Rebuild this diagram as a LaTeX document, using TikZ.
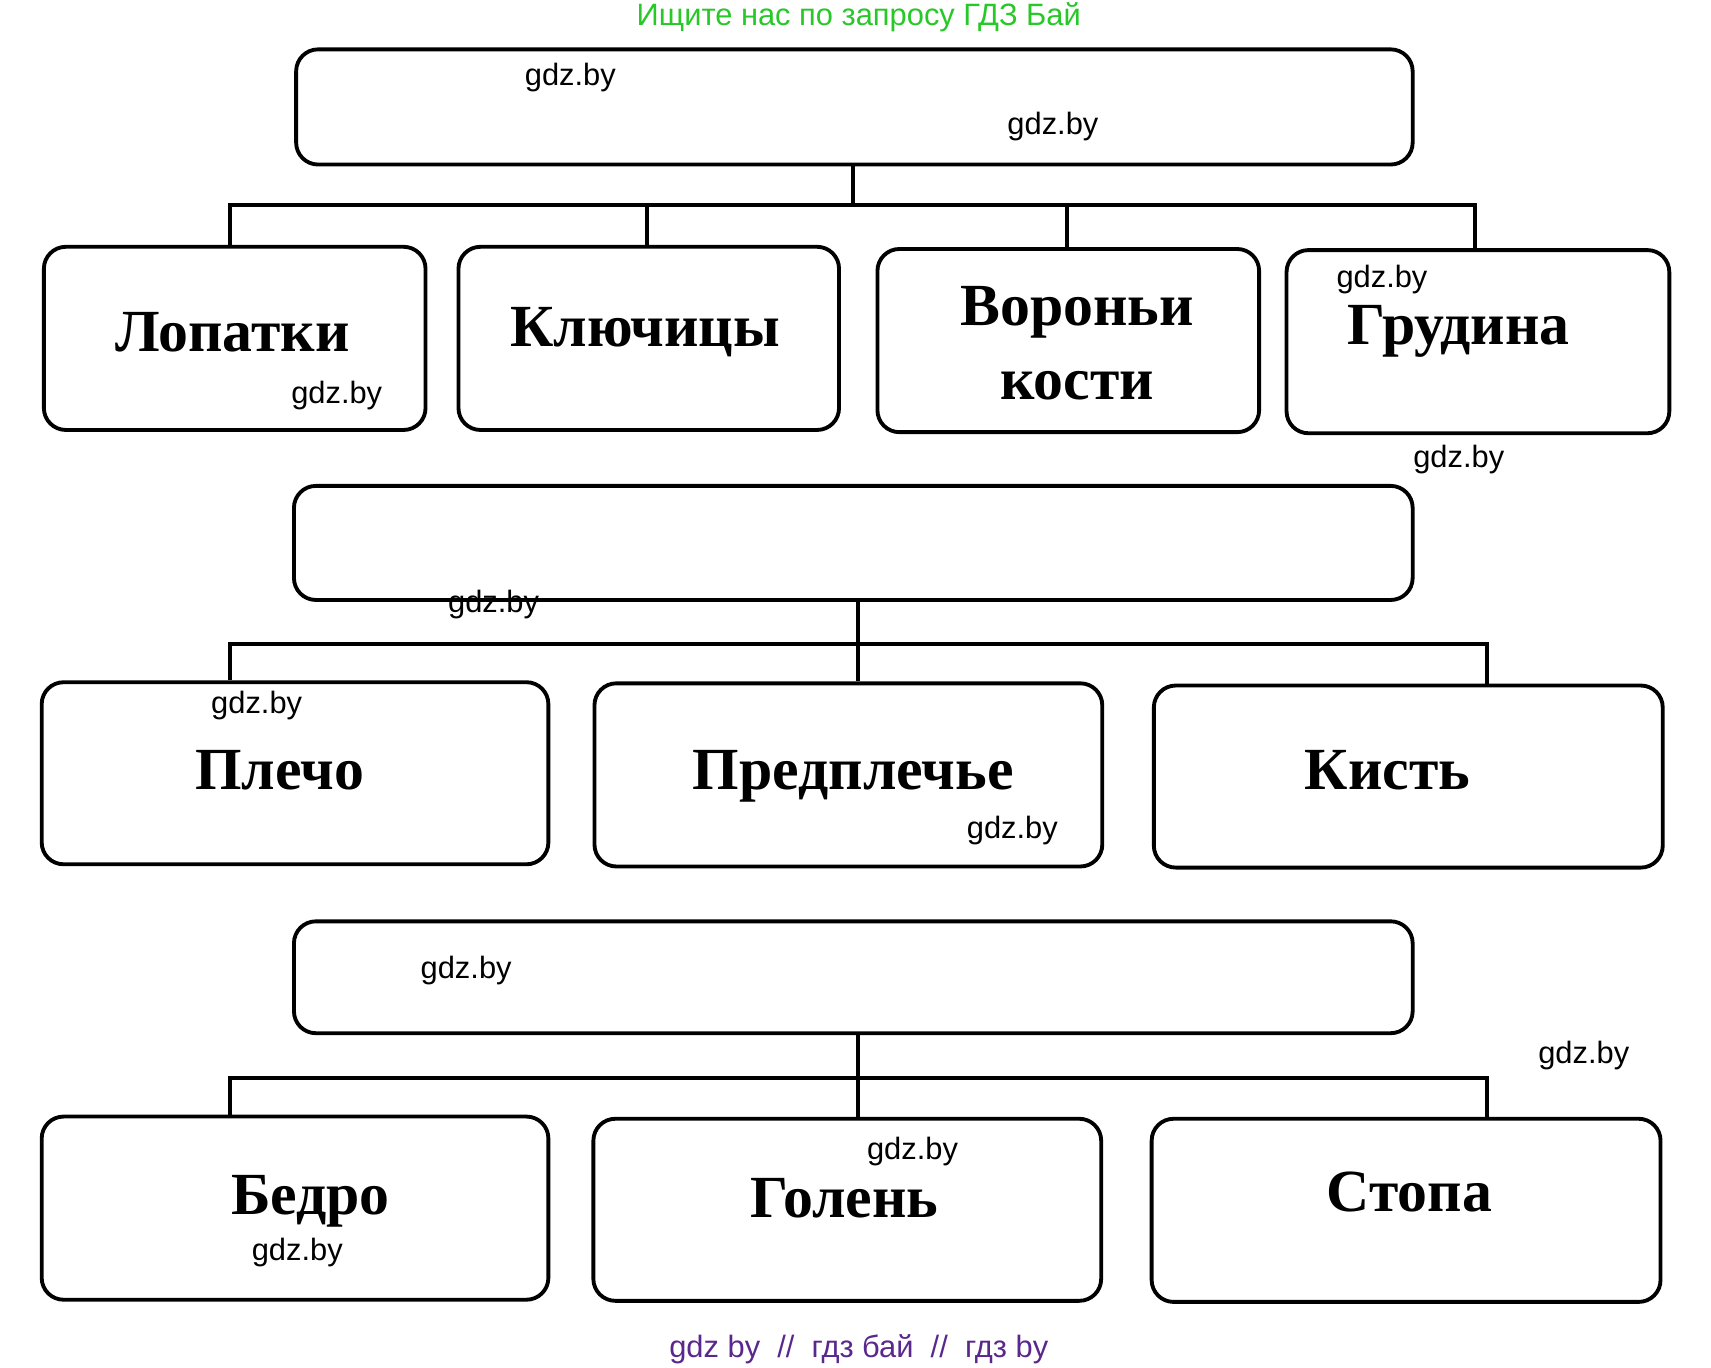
\documentclass[tikz,border=0pt]{standalone}
\usepackage{fontspec}
\setmainfont{Liberation Serif}
\newfontfamily\wmk{Liberation Sans}
\begin{document}
\begin{tikzpicture}[x=0.01cm,y=-0.01cm,
 box/.style={draw,line width=1pt,rounded corners=0.2cm,inner sep=0pt},
 lab/.style={font=\fontsize{15.5}{19}\selectfont\bfseries,align=center},
 w/.style={font=\wmk\fontsize{8}{9.5}\selectfont},
 ln/.style={line width=1pt}]
\useasboundingbox (0,0) rectangle (1560,1247);
\def\bx#1#2#3#4#5{\node[box,minimum width={(#4-#2)*0.01cm},minimum height={(#5-#3)*0.01cm}] (#1) at ({(#2+#4)/2},{(#3+#5)/2}) {};}
\bx{t1}{270}{45}{1288}{150}
\bx{a}{40}{225}{388}{392}
\bx{b}{418}{225}{765}{392}
\bx{c}{800}{227}{1148}{394}
\bx{d}{1173}{228}{1522}{395}
\bx{t2}{268}{443}{1288}{547}
\bx{e}{38}{622}{500}{788}
\bx{f}{542}{623}{1005}{790}
\bx{g}{1052}{625}{1516}{791}
\bx{t3}{268}{840}{1288}{942}
\bx{h}{38}{1018}{500}{1185}
\bx{i}{541}{1020}{1004}{1186}
\bx{k}{1050}{1020}{1514}{1187}
% connectors
\coordinate (j1) at (778,187);
\coordinate (j1a) at (210,187); \coordinate (j1b) at (590,187);
\coordinate (j1c) at (973,187); \coordinate (j1d) at (1345,187);
\draw[ln] (t1.south -| j1) -- (j1);
\draw[ln] (a.north -| j1a) -- (j1a) -- (j1d) -- (d.north -| j1d);
\draw[ln] (b.north -| j1b) -- (j1b);
\draw[ln] (c.north -| j1c) -- (j1c);
\coordinate (j2) at (782,587); \coordinate (j2a) at (210,587); \coordinate (j2c) at (1356,587);
\draw[ln] (t2.south -| j2) -- (f.north -| j2);
\draw[ln] (e.north -| j2a) -- (j2a) -- (j2c) -- (g.north -| j2c);
\coordinate (j3) at (782,983); \coordinate (j3a) at (210,983); \coordinate (j3c) at (1356,983);
\draw[ln] (t3.south -| j3) -- (i.north -| j3);
\draw[ln] (h.north -| j3a) -- (j3a) -- (j3c) -- (k.north -| j3c);
% labels
\node[lab] (la) at (212,303) {Лопатки};
\node[lab] (lb) at (588,303) {Ключицы};
\node[lab] (lc) at (982,313) {Вороньи\\кости};
\node[lab] (ld) at (1330,302) {Грудина};
\node[lab] (le) at (255,702) {Плечо};
\node[lab] (lf) at (778,708) {Предплечье};
\node[lab] (lg) at (1265,702) {Кисть};
\node[lab] (lh) at (283,1095) {Бедро};
\node[lab] (li) at (770,1092) {Голень};
\node[lab] (lk) at (1285,1087) {Стопа};
% watermarks
\foreach \p/\q [count=\n] in {520/71,960/115,1260/255,307/361,1330/419,450/551,234/643,923/757,425/885,1444/962,832/1050,271/1142}
  \node[w] (w\n) at (\p,\q) {gdz.by};
\node[w,text={rgb,255:red,40;green,200;blue,40}] (hdr) at (783,16) {Ищите нас по запросу ГДЗ Бай};
\node[w,text={rgb,255:red,90;green,40;blue,140}] (ftr) at (783,1230) {gdz by~~//~~гдз бай~~//~~гдз by};
\end{tikzpicture}
\end{document}
